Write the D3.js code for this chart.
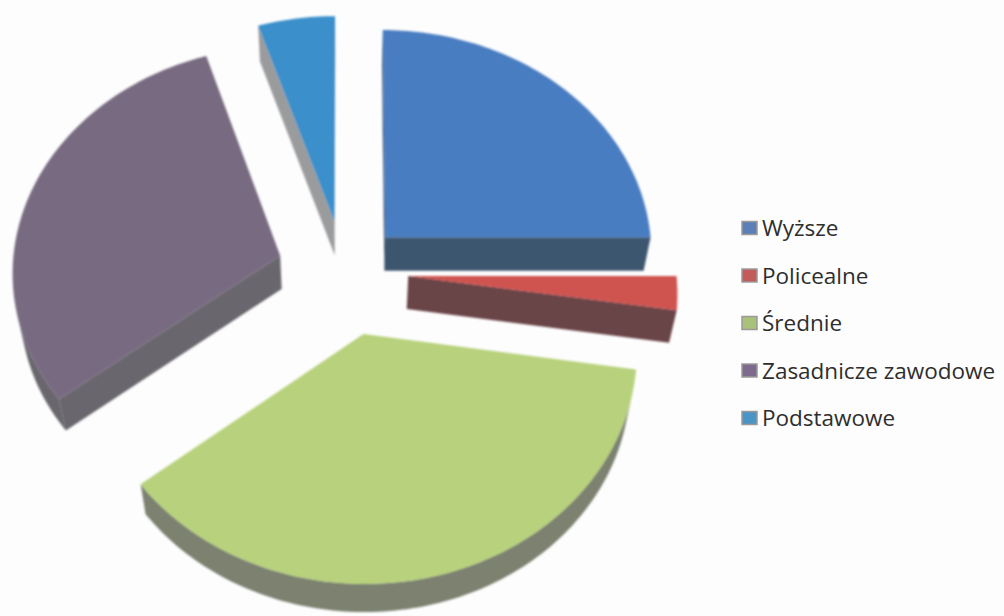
<!DOCTYPE html>
<html>
<head>
<meta charset="utf-8">
<script src="https://cdn.jsdelivr.net/npm/d3@7"></script>
<style>
  body { margin: 0; background: #fdfdfd; }
  svg { display: block; }
</style>
</head>
<body>
<div id="chart"></div>
<script>
// data (percent of respondents by education)
const categories = ["Wyższe", "Policealne", "Średnie", "Zasadnicze zawodowe", "Podstawowe"];
const values = [25, 2.4, 37, 30.6, 5];

// styles
const topColors = ["#4a7dc2", "#cf524f", "#b8d17b", "#786a80", "#3b8fca"];
const sideColors = ["#3c566f", "#6b4447", "#7c8170", "#69666d", "#9a9b9d"];
const legendColors = ["#5b80b8", "#c45b5b", "#a9c27a", "#7d6a8d", "#4a94c6"];
const explode = [0.22, 0.24, 0.28, 0.25, 0.23];

const width = 1004, height = 616;

// simple perspective camera for the tilted pie
const cx = 344, cy = 272, S = 268;
const sinT = 0.84, cosT = 0.543, q = 0.12, depth = 0.232;

function project(X, Y, h) {
  const z = 1 - q * (Y * cosT + h * sinT);
  return [cx + S * X / z, cy + S * (Y * sinT - h * cosT) / z];
}

function area(pts) {
  let a = 0;
  for (let i = 0; i < pts.length; i++) {
    const p = pts[i], n = pts[(i + 1) % pts.length];
    a += p[0] * n[1] - n[0] * p[1];
  }
  return a / 2;
}

const svg = d3.select("#chart").append("svg")
  .attr("width", width)
  .attr("height", height);

const defs = svg.append("defs");
defs.append("filter").attr("id", "soft")
  .append("feGaussianBlur").attr("stdDeviation", 0.8);

const pie = d3.pie().sort(null).startAngle(0).endAngle(2 * Math.PI);
const arcs = pie(values);

const line = d3.line().curve(d3.curveLinearClosed);

const slices = arcs.map((d, i) => {
  const m = (d.startAngle + d.endAngle) / 2;
  const ox = explode[i] * Math.sin(m), oy = -explode[i] * Math.cos(m);
  const n = Math.max(4, Math.ceil((d.endAngle - d.startAngle) / 0.02));
  const ring = [[ox, oy]];
  for (let k = 0; k <= n; k++) {
    const t = d.startAngle + (d.endAngle - d.startAngle) * k / n;
    ring.push([ox + Math.sin(t), oy - Math.cos(t)]);
  }
  return { i, oy, ring };
});

const g = svg.append("g").attr("filter", "url(#soft)");

slices.slice().sort((a, b) => a.oy - b.oy).forEach(s => {
  const top = s.ring.map(p => project(p[0], p[1], 0));
  const bot = s.ring.map(p => project(p[0], p[1], -depth));
  const len = s.ring.length;
  const sg = g.append("g");

  // radial walls
  [[0, 1], [len - 1, 0]].forEach(([a, b]) => {
    const quad = [top[a], top[b], bot[b], bot[a]];
    if (area(quad) < 0) {
      sg.append("path").attr("d", line(quad)).attr("fill", sideColors[s.i]);
    }
  });

  // outer wall, only the parts facing the viewer
  let run = [];
  const flush = () => {
    if (run.length > 1) {
      const pts = run.map(k => top[k]).concat(run.slice().reverse().map(k => bot[k]));
      sg.append("path").attr("d", line(pts)).attr("fill", sideColors[s.i]);
    }
    run = [];
  };
  for (let k = 1; k < len - 1; k++) {
    const quad = [top[k], top[k + 1], bot[k + 1], bot[k]];
    if (area(quad) < 0) {
      if (!run.length) run.push(k);
      run.push(k + 1);
    } else {
      flush();
    }
  }
  flush();

  // top face
  sg.append("path").attr("d", line(top)).attr("fill", topColors[s.i]);
});

// legend
const legend = svg.append("g").attr("transform", "translate(742,0)");
const rowY = d3.scalePoint().domain(categories).range([228, 418]);

const items = legend.selectAll("g.item").data(categories).enter().append("g")
  .attr("class", "item")
  .attr("transform", d => `translate(0,${rowY(d)})`);

items.append("rect")
  .attr("x", 0).attr("y", -6.5)
  .attr("width", 15).attr("height", 13)
  .attr("fill", (d, i) => legendColors[i])
  .attr("stroke", "#9a9a9a").attr("stroke-width", 1.5);

items.append("text")
  .attr("x", 20).attr("y", 8)
  .attr("font-family", "'Open Sans', sans-serif")
  .attr("font-size", 22.5)
  .attr("fill", "#2e2e2e")
  .text(d => d);
</script>
</body>
</html>
